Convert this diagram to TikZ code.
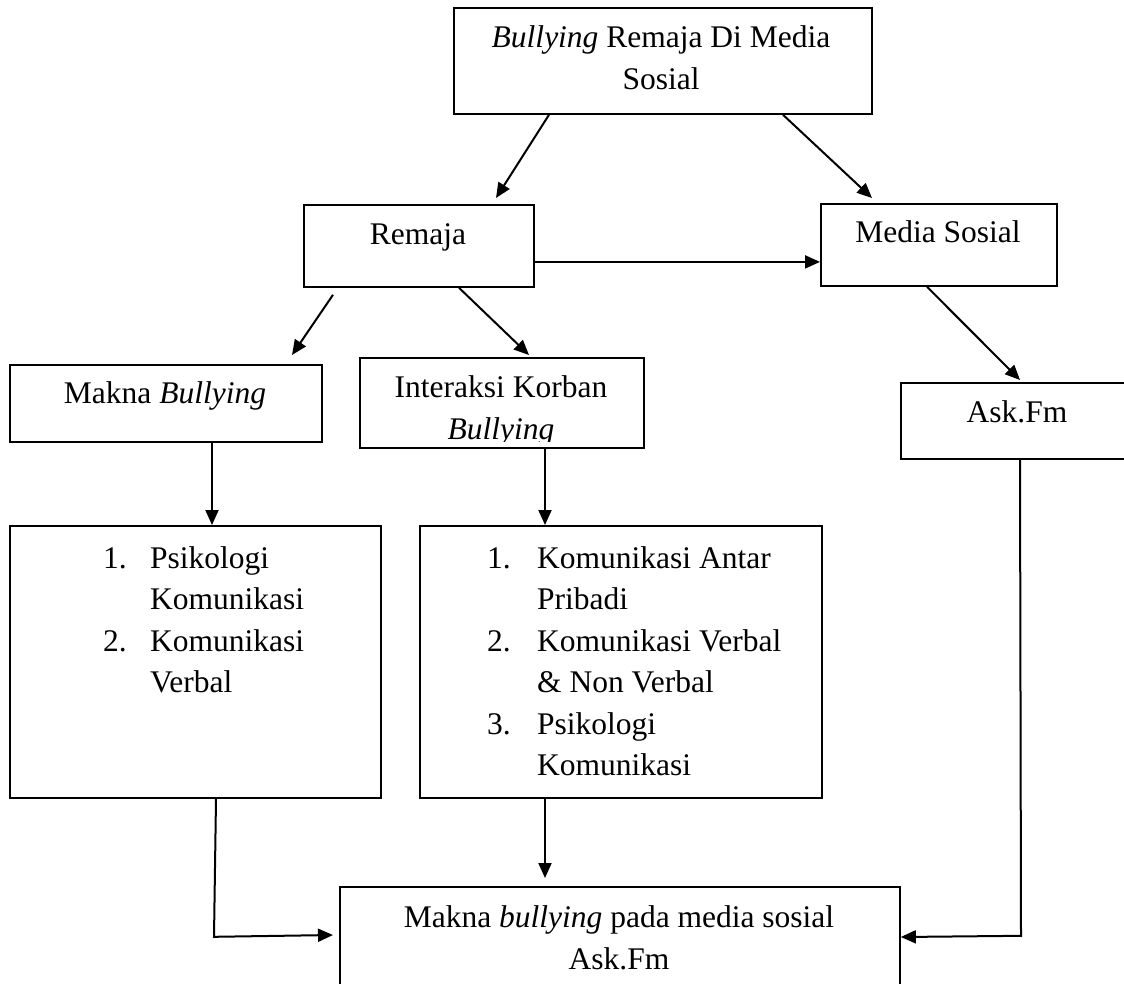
\documentclass[tikz,border=0pt]{standalone}
\usepackage{fontspec}
\setmainfont{Liberation Serif}
\usetikzlibrary{arrows.meta,calc}
\begin{document}
\begin{tikzpicture}[x=1pt,y=-1pt,
  box/.style={draw,line width=1.8pt,inner sep=0pt,anchor=north west},
  txt/.style={inner sep=0pt,font=\fontsize{31.5}{42}\selectfont},
  listtxt/.style={inner sep=0pt,anchor=base west,font=\fontsize{31.5}{41.5}\selectfont},
  arr/.style={line width=2pt,-{Triangle[length=15pt,width=13pt]}},
  ln/.style={line width=2pt}]
\useasboundingbox (0,0) rectangle (1124,983);
\clip (0,0) rectangle (1124,983);
% boxes
\node[box,minimum width=418pt,minimum height=106pt] (top) at (453,7) {};
\node[box,minimum width=230pt,minimum height=82pt] (remaja) at (303,204) {};
\node[box,minimum width=236pt,minimum height=82pt] (ms) at (820,203) {};
\node[box,minimum width=312pt,minimum height=77pt] (makna) at (9,364) {};
\node[box,minimum width=284pt,minimum height=90pt] (inter) at (359,357) {};
\node[box,minimum width=234pt,minimum height=76pt] (ask) at (900,382) {};
\node[box,minimum width=371pt,minimum height=272pt] (lbox) at (9,525) {};
\node[box,minimum width=402pt,minimum height=272pt] (mbox) at (419,525) {};
\node[box,minimum width=560pt,minimum height=130pt] (bot) at (339,886) {};
% texts
\node[txt,anchor=base] (toptxt) at (661,47) {\begin{tabular}[t]{@{}c@{}}\textit{Bullying} Remaja Di Media\\ Sosial\end{tabular}};
\node[txt,anchor=base] (remajatxt) at (418,244) {Remaja};
\node[txt,anchor=base] (mstxt) at (938,242) {Media Sosial};
\node[txt,anchor=base] (maknatxt) at (165,403) {Makna \textit{Bullying}};
\begin{scope}
\clip (359,357) rectangle (643,441);
\node[txt,anchor=base] (intertxt) at (501,397) {\begin{tabular}[t]{@{}c@{}}Interaksi Korban\\ \textit{Bullying}\end{tabular}};
\end{scope}
\node[txt,anchor=base] (asktxt) at (1017,422) {Ask.Fm};
\node[listtxt] (ltxt) at (103,568) {\begin{tabular}[t]{@{}l@{}l@{}}\makebox[47pt][l]{1.} & Psikologi\\ & Komunikasi\\ \makebox[47pt][l]{2.} & Komunikasi\\ & Verbal\end{tabular}};
\node[listtxt] (mtxt) at (487,568) {\begin{tabular}[t]{@{}l@{}l@{}}\makebox[50pt][l]{1.} & Komunikasi Antar\\ & Pribadi\\ \makebox[50pt][l]{2.} & Komunikasi Verbal\\ & \& Non Verbal\\ \makebox[50pt][l]{3.} & Psikologi\\ & Komunikasi\end{tabular}};
\node[txt,anchor=base] (bottxt) at (619,927) {\begin{tabular}[t]{@{}c@{}}Makna \textit{bullying} pada media sosial\\ Ask.Fm\end{tabular}};
% connectors
\draw[arr] ($(top.south west)+(96,0)$) -- ($(remaja.north west)+(193,-6)$);
\draw[arr] ($(top.south west)+(330,0)$) -- ($(ms.north west)+(52,-5)$);
\draw[arr] ($(remaja.east)+(0,16)$) -- ($(ms.west)+(0,17)$);
\draw[arr] ($(remaja.south west)+(30,7)$) -- ($(makna.north west)+(283,-9)$);
\draw[arr] ($(remaja.south west)+(156,0)$) -- ($(inter.north west)+(170,-2)$);
\draw[arr] ($(ms.south west)+(107,0)$) -- ($(ask.north west)+(120,-2)$);
\draw[arr] ($(makna.south west)+(203,0)$) -- ($(lbox.north west)+(203,0)$);
\draw[arr] ($(inter.south west)+(186,0)$) -- ($(mbox.north west)+(126,0)$);
\draw[arr] ($(lbox.south west)+(207,0)$) -- ++(-2,138) -- ($(bot.north west)+(-6,49)$);
\draw[arr] ($(mbox.south west)+(126,0)$) -- ($(bot.north west)+(206,-8)$);
\draw[arr] ($(ask.south west)+(120,0)$) -- ++(1,476) -- ($(bot.north east)+(0,51)$);
\end{tikzpicture}
\end{document}
